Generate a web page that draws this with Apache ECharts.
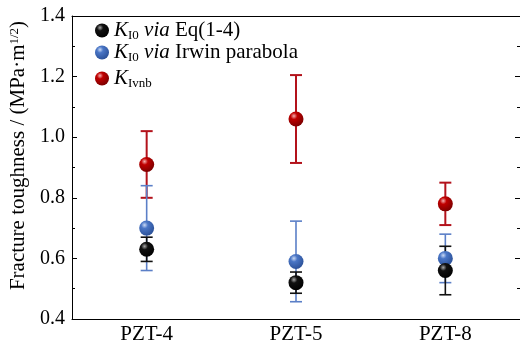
<!DOCTYPE html>
<html><head><meta charset="utf-8">
<script src="https://cdn.jsdelivr.net/npm/echarts@6/dist/echarts.min.js"></script>
<style>html,body{margin:0;padding:0;background:#fff}#c{width:520px;height:347px}</style>
</head><body><div id="c"></div>
<script>
var categories = ['PZT-4', 'PZT-5', 'PZT-8'];
var eqMean = [0.63, 0.52, 0.56];
var eqErr = [0.04, 0.035, 0.08];
var irwinMean = [0.70, 0.59, 0.60];
var irwinErr = [0.14, 0.133, 0.08];
var vnbMean = [0.91, 1.06, 0.78];
var vnbErr = [0.11, 0.145, 0.07];
var yTicks = ['0.4', '0.6', '0.8', '1.0', '1.2', '1.4'];

var FONT = 'Liberation Serif';
function sphere(hi, mid, edge) {
  return new echarts.graphic.RadialGradient(0.36, 0.3, 0.75, [
    {offset: 0, color: hi}, {offset: 0.3, color: mid}, {offset: 1, color: edge}
  ]);
}
var cEq = sphere('#a8a8a8', '#111111', '#000000');
var cIr = sphere('#c9d9f5', '#4a76c6', '#2a4f96');
var cVn = sphere('#f5b0b0', '#c00000', '#780000');

function errData(mean, err) {
  return mean.map(function (m, i) { return [i, m - err[i], m + err[i]]; });
}
function errSeries(name, mean, err, color, w) {
  return {
    type: 'custom', name: name, data: errData(mean, err), z: 2,
    renderItem: function (params, api) {
      var lo = api.coord([api.value(0), api.value(1)]);
      var hi = api.coord([api.value(0), api.value(2)]);
      var hw = 6;
      var st = {stroke: color, lineWidth: w};
      return {type: 'group', children: [
        {type: 'line', shape: {x1: lo[0], y1: lo[1], x2: hi[0], y2: hi[1]}, style: st},
        {type: 'line', shape: {x1: lo[0] - hw, y1: lo[1], x2: lo[0] + hw, y2: lo[1]}, style: st},
        {type: 'line', shape: {x1: hi[0] - hw, y1: hi[1], x2: hi[0] + hw, y2: hi[1]}, style: st}
      ]};
    }
  };
}
function ptSeries(name, mean, color) {
  return {
    type: 'scatter', name: name, symbol: 'circle', symbolSize: 15, z: 5,
    itemStyle: {color: color, opacity: 1},
    data: mean.map(function (m, i) { return [i, m]; })
  };
}
var legendRich = {
  i: {fontFamily: FONT, fontStyle: 'italic', fontSize: 21, lineHeight: 23, color: '#000', verticalAlign: 'middle'},
  n: {fontFamily: FONT, fontSize: 21, lineHeight: 23, color: '#000', verticalAlign: 'middle'},
  s: {fontFamily: FONT, fontSize: 13, lineHeight: 13, color: '#000', verticalAlign: 'bottom'}
};
var legendText = {
  eq: '{i|K}{s|I0} {i|via} {n|Eq(1-4)}',
  irwin: '{i|K}{s|I0} {i|via} {n|Irwin parabola}',
  vnb: '{i|K}{s|Ivnb}'
};
var legendTops = [20, 42, 68];
function mkLegend(k, idx) {
  return {
    data: [k], left: 95, top: legendTops[idx], padding: 0, orient: 'vertical',
    itemWidth: 14, itemHeight: 14, icon: 'circle', selectedMode: false,
    formatter: function (n) { return legendText[n]; },
    textStyle: {rich: legendRich, fontFamily: FONT, fontSize: 21}
  };
}
var chart = echarts.init(document.getElementById('c'));
chart.setOption({
  animation: false,
  backgroundColor: '#fff',
  grid: {left: 67, top: 16, width: 456, bottom: 28},
  legend: [mkLegend('eq', 0), mkLegend('irwin', 1), mkLegend('vnb', 2)],
  xAxis: [{
    type: 'category', data: categories, boundaryGap: true,
    axisLine: {lineStyle: {color: '#000', width: 1}},
    axisTick: {show: false},
    axisLabel: {fontFamily: FONT, fontSize: 21, color: '#000', margin: 5}
  }, {
    type: 'category', data: categories, position: 'top', boundaryGap: true,
    axisLine: {lineStyle: {color: '#000', width: 1}},
    axisTick: {show: false}, axisLabel: {show: false}
  }],
  yAxis: [{
    type: 'value', min: 0.4, max: 1.4, interval: 0.2,
    name: 'Fracture toughness / (MPa·m{sup|1/2})',
    nameLocation: 'middle', nameGap: 43,
    nameTextStyle: {fontFamily: FONT, fontSize: 21, color: '#000', padding: [0, 0, 0, 24],
      rich: {sup: {fontFamily: FONT, fontSize: 13, color: '#000', verticalAlign: 'top', lineHeight: 13}}},
    axisLine: {show: true, lineStyle: {color: '#000', width: 1}},
    axisTick: {show: true, inside: true, length: 5, lineStyle: {color: '#000'}},
    minorTick: {show: true, splitNumber: 2, length: 3, lineStyle: {color: '#000'}},
    splitLine: {show: false},
    axisLabel: {fontFamily: FONT, fontSize: 20, color: '#000', margin: 7,
      formatter: function (v) { return yTicks[Math.round((v - 0.4) / 0.2)]; }}
  }, {
    type: 'value', min: 0.4, max: 1.4, interval: 0.2, position: 'right',
    axisLine: {show: true, lineStyle: {color: '#000', width: 1}},
    axisTick: {show: true, inside: true, length: 5, lineStyle: {color: '#000'}},
    minorTick: {show: true, splitNumber: 2, length: 3, lineStyle: {color: '#000'}},
    splitLine: {show: false}, axisLabel: {show: false}
  }],
  series: [
    errSeries('vnbErr', vnbMean, vnbErr, '#b3121b', 2),
    errSeries('irwinErr', irwinMean, irwinErr, '#5b7fc7', 1.6),
    errSeries('eqErr', eqMean, eqErr, '#111', 1.6),
    ptSeries('vnb', vnbMean, cVn),
    ptSeries('irwin', irwinMean, cIr),
    ptSeries('eq', eqMean, cEq)
  ]
});
</script></body></html>
